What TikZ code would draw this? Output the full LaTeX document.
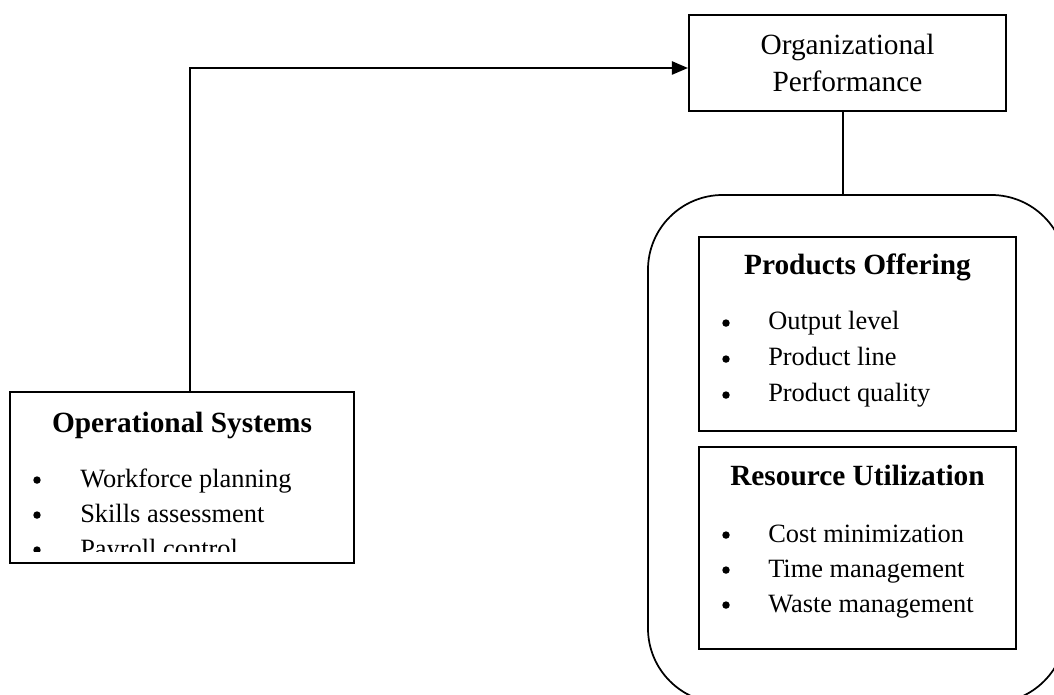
\documentclass[tikz,border=0pt]{standalone}
\usepackage{fontspec}
\setmainfont{Liberation Serif}
\usetikzlibrary{arrows.meta}

\tikzset{
  box/.style={draw,line width=1.6pt,inner sep=0pt},
  heading/.style={anchor=base,inner sep=0pt,font=\fontsize{22}{26}\selectfont\bfseries},
  item/.style={anchor=base west,inner sep=0pt,font=\fontsize{19.8}{24}\selectfont},
  dot/.style={circle,fill,inner sep=0pt,minimum size=5.6pt,yshift=5.2pt}
}

\begin{document}
\begin{tikzpicture}[x=0.75pt,y=-0.75pt]

        \clip (0,0) rectangle (1054,695);

        % boxes
        \node[box,align=center,minimum width=237.75pt,minimum height=72pt,
              font=\fontsize{22}{27.75}\selectfont] (op) at (847.5,63)
              {Organizational\\Performance};
        \node[box,line width=1.3pt,rounded corners=56pt,minimum width=313.5pt,
              minimum height=381pt] (group) at (857,449) {};
        \node[box,minimum width=237.75pt,minimum height=145.5pt] (prod) at (857.5,334) {};
        \node[box,minimum width=237.75pt,minimum height=151.5pt] (res) at (857.5,548) {};
        \node[box,minimum width=258pt,minimum height=128.25pt] (opsys) at (182,477.5) {};

        % headings
        \node[heading] (opsystitle) at (182,432) {Operational Systems};
        \node[heading] (prodtitle)  at (857.5,275) {Products Offering};
        \node[heading] (restitle)   at (857.5,485) {Resource Utilization};

        % items
        \begin{scope}
          \clip (10,392) rectangle (354,551);
          \node[dot]  (os1b) at (37,487) {};
          \node[item] (os1)  at (80,487) {Workforce planning};
          \node[dot]  (os2b) at (37,522) {};
          \node[item] (os2)  at (80,522) {Skills assessment};
          \node[dot]  (os3b) at (37,557) {};
          \node[item] (os3)  at (80,557) {Payroll control};
        \end{scope}

        \node[dot]  (po1b) at (726,330) {};
        \node[item] (po1)  at (768,330) {Output level};
        \node[dot]  (po2b) at (726,366) {};
        \node[item] (po2)  at (768,366) {Product line};
        \node[dot]  (po3b) at (726,402) {};
        \node[item] (po3)  at (768,402) {Product quality};

        \node[dot]  (ru1b) at (726,542) {};
        \node[item] (ru1)  at (768,542) {Cost minimization};
        \node[dot]  (ru2b) at (726,577) {};
        \node[item] (ru2)  at (768,577) {Time management};
        \node[dot]  (ru3b) at (726,612) {};
        \node[item] (ru3)  at (768,612) {Waste management};

        % connectors
        \coordinate (turn) at (190,68);
        \coordinate (drop) at (843,0);
        \draw[line width=1pt,-{Triangle[length=12pt,width=10pt]}] (opsys.north -| turn) |- (op.west |- turn);
        \draw[line width=1pt] (op.south -| drop) -- (group.north -| drop);

      \end{tikzpicture}
\end{document}
